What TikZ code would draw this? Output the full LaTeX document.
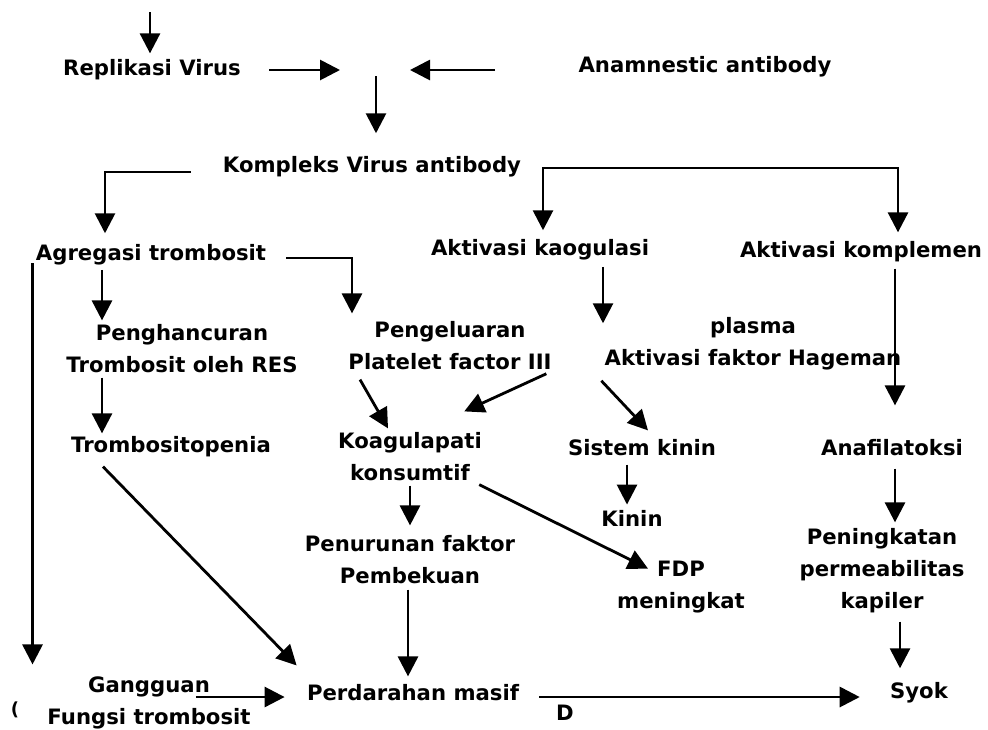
\documentclass[tikz,border=0pt]{standalone}
\usepackage{fontspec}
\setmainfont{DejaVu Sans}
\usetikzlibrary{arrows.meta, positioning, calc}

\begin{document}
\begin{tikzpicture}[x=0.5pt, y=-0.5pt,
    txt/.style={inner sep=3pt, align=center, font=\fontsize{10.6}{16}\selectfont\bfseries},
    arr/.style={-{Triangle[length=10pt,width=10pt]}, line width=1.4pt}]
    \useasboundingbox (0,0) rectangle (988,729);
    % Top of the chart
    \node[txt] (rep) at (152,70) {Replikasi Virus};
    \node[txt] (ana) at (705,67) {Anamnestic antibody};
    \node[txt] (kva) at (372,167) {Kompleks Virus antibody};
    \coordinate (src) at (150,12);
    \coordinate (mL) at (340,70);
    \coordinate (mR) at (410,70);
    \coordinate (mD) at (376,76);
    % Three branches
    \node[txt] (agr) at (151,255) {Agregasi trombosit};
    \node[txt] (kao) at (540,250) {Aktivasi kaogulasi};
    \node[txt] (kom) at (861,252) {Aktivasi komplemen};
    \node[txt] (peng) at (182,349) {Penghancuran\\Trombosit oleh RES};
    \node[txt] (pf3) at (450,346) {Pengeluaran\\Platelet factor III};
    \node[txt] (hag) at (753,344) {plasma\\Aktivasi faktor Hageman};
    \node[txt] (trp) at (171,447) {Trombositopenia};
    \node[txt] (koa) at (410,457) {Koagulapati\\konsumtif};
    \node[txt] (sis) at (642,448) {Sistem kinin};
    \node[txt] (anf) at (892,448) {Anafilatoksi};
    \node[txt] (kinin) at (632,518) {Kinin};
    \node[txt] (pen) at (410,560) {Penurunan faktor\\Pembekuan};
    \node[txt] (fdp) at (681,587) {FDP\\meningkat};
    \node[txt] (perm) at (882,571) {Peningkatan\\permeabilitas\\kapiler};
    % Bottom row
    \node[txt] (gang) at (149,703) {Gangguan\\Fungsi trombosit};
    \node[txt] (perd) at (413,693) {Perdarahan masif};
    \node[txt] (syok) at (919,693) {Syok};
    \node[txt] (dd) at (565,713) {D};
    \node[txt] (cut) at (15,710) {\small (};
    % Connections
    \draw[arr] (src) -- (src |- rep.north);
    \draw[arr] ($(rep.east)+(22,0)$) -- (mL);
    \draw[arr] ($(ana.west)+(-77,3)$) -- (mR);
    \draw[arr] (mD) -- ($(mD |- kva.north)+(0,-17)$);
    \draw[arr] ($(kva.west)+(-26,5)$) -| ($(agr.north)+(-46,-5)$);
    \draw[arr] ($(kva.east)+(17,1)$) -| ($(kao.north)+(3,-3)$);
    \draw[arr] ($(kva.east)+(17,1)$) -| ($(kom.north)+(37,-3)$);
    \draw[arr] ($(agr.east)+(14,3)$) -| ($(pf3.north)+(-98,-2)$);
    \draw[arr] ($(agr.south)+(-49,-2)$) -- ($(peng.north)+(-80,2)$);
    \draw[arr] ($(agr.west)+(3,8)$) -- ($(agr.west |- gang.north)+(3,-6)$);
    \draw[arr] ($(peng.south)+(-80,-2)$) -- ($(trp.north)+(-69,3)$);
    \draw[arr] ($(trp.south)+(-68,3)$) -- ($(perd.north west)+(-4,-13)$);
    \draw[arr] ($(pf3.south)+(-90,3)$) -- ($(koa.north)+(-22,2)$);
    \draw[arr] ($(hag.south west)+(-52,-3)$) -- ($(koa.north east)+(-24,-15)$);
    \draw[arr] ($(kao.south)+(63,0)$) -- ($(hag.north)+(-150,12)$);
    \draw[arr] ($(kom.south)+(34,0)$) -- ($(anf.north)+(3,-28)$);
    \draw[arr] ($(hag.south west)+(3,4)$) -- ($(sis.north)+(6,-3)$);
    \draw[arr] ($(sis.south)+(-15,2)$) -- ($(kinin.north)+(-5,1)$);
    \draw[arr] ($(anf.south)+(3,6)$) -- ($(perm.north)+(13,0)$);
    \draw[arr] ($(perm.south)+(18,2)$) -- ($(syok.north)+(-19,-8)$);
    \draw[arr] ($(koa.south)+(0,-2)$) -- ($(pen.north)+(0,-4)$);
    \draw[arr] ($(koa.south east)+(-9,-3)$) -- ($(fdp.north)+(-33,14)$);
    \draw[arr] ($(pen.south)+(-2,-1)$) -- ($(perd.north)+(-5,-2)$);
    \draw[arr] ($(gang.east)+(-61,-6)$) -- ($(perd.west)+(-16,4)$);
    \draw[arr] ($(perd.east)+(14,4)$) -- ($(syok.west)+(-24,4)$);
\end{tikzpicture}
\end{document}
